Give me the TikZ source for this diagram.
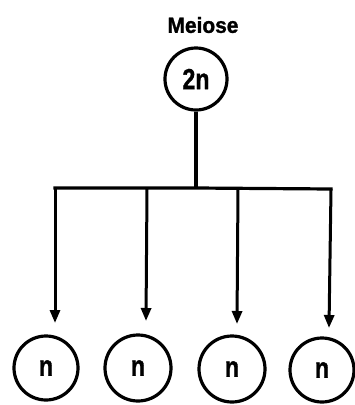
\documentclass[tikz,border=0pt]{standalone}
\usepackage{fontspec}
\setmainfont{Liberation Sans}
\newfontfamily\heavyfont{Liberation Sans}[BoldFeatures={FakeBold=1.2}]
\usetikzlibrary{arrows.meta}
\newcommand{\narrowtxt}[2]{\scalebox{#1}[1]{#2}}
\begin{document}
\begin{tikzpicture}[x=1pt,y=-1pt,
  cell/.style={circle,draw,line width=3.2pt,inner sep=0pt,font=\heavyfont\bfseries\fontsize{29}{29}\selectfont},
  link/.style={line width=3.2pt},
  arr/.style={line width=3pt,-{Triangle[length=13pt,width=10pt]}}]
\useasboundingbox (0,0) rectangle (355,405);
\node[font=\heavyfont\bfseries\fontsize{22}{22}\selectfont] (title) at (203,25) {\narrowtxt{0.95}{Meiose}};
\node[cell,minimum size=62pt] (p) at (196,79) {\narrowtxt{0.8}{2n}};
\coordinate (j) at (196,188);
\coordinate (b1) at (55,188);
\coordinate (b2) at (147,189);
\coordinate (b3) at (238,189);
\coordinate (b4) at (331,189);
\node[cell,minimum size=64pt] (c1) at (46,368) {\narrowtxt{0.8}{n}};
\node[cell,minimum size=66pt] (c2) at (138,368) {\narrowtxt{0.8}{n}};
\node[cell,minimum size=66pt] (c3) at (232,369) {\narrowtxt{0.8}{n}};
\node[cell,minimum size=64pt] (c4) at (322,370) {\narrowtxt{0.8}{n}};
\draw[link] (p.south) -- (j);
\draw[link,line cap=rect] (b1) -- (j) -- (b4);
\draw[arr] (b1) -- (55,323);
\draw[arr] (b2) -- (146,321);
\draw[arr] (b3) -- (237,324);
\draw[arr] (b4) -- (329,328);
\end{tikzpicture}
\end{document}
